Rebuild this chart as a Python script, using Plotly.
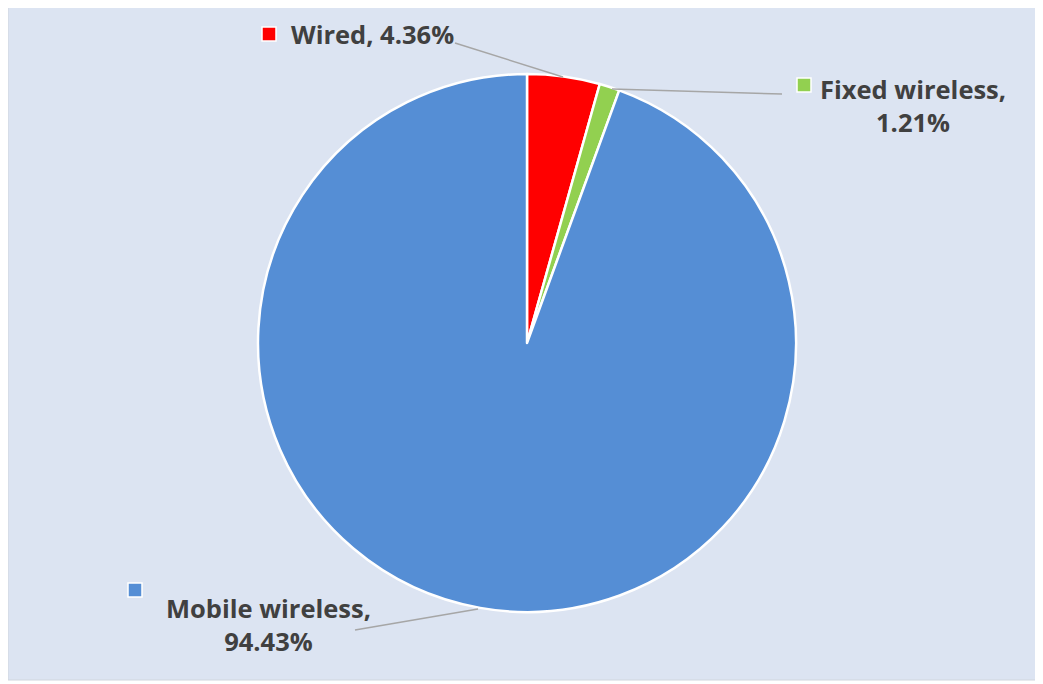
import plotly.graph_objects as go

categories = ["Wired", "Fixed wireless", "Mobile wireless"]
shares = [4.36, 1.21, 94.43]
colors = ["#FF0000", "#92D050", "#558ED5"]
label_texts = ["Wired, 4.36%", "Fixed wireless,<br>1.21%", "Mobile wireless,<br>94.43%"]

W, H = 1043, 684
OFF = 8  # page body margin
def px(x): return (x - OFF) / W
def py(y): return 1 - (y - OFF) / H

cx, cy, r = 527, 343, 269

fig = go.Figure(go.Pie(
    labels=categories, values=shares, sort=False, direction="clockwise", rotation=0,
    marker=dict(colors=colors, line=dict(color="white", width=2.5)),
    textinfo="none", hoverinfo="label+percent", showlegend=False,
    domain=dict(x=[px(cx - r), px(cx + r)], y=[py(cy + r), py(cy - r)]),
))

shapes = [
    dict(type="rect", xref="paper", yref="paper", x0=px(8), x1=px(1040), y0=py(680), y1=py(5),
         fillcolor="#DCE4F2", line=dict(color="#D0D6DE", width=1), layer="below"),
]
lines = [((455, 43), (563, 77)), ((612, 89), (782, 94)), ((478, 609), (355, 630))]
for (x0, y0), (x1, y1) in lines:
    shapes.append(dict(type="line", xref="paper", yref="paper", x0=px(x0), y0=py(y0), x1=px(x1), y1=py(y1),
                       line=dict(color="#A6A6A6", width=1.5)))
keys = [(262, 27), (797, 78), (128, 583)]
for (x, y), c in zip(keys, colors):
    shapes.append(dict(type="rect", xref="paper", yref="paper", x0=px(x), x1=px(x + 14), y0=py(y + 14), y1=py(y),
                       fillcolor=c, line=dict(color="white", width=1.5)))

font = dict(family="Open Sans, sans-serif", size=25.5, color="#404040")
annotations = [
    dict(x=px(372), y=py(34), text="<b>" + label_texts[0] + "</b>"),
    dict(x=px(913), y=py(105), text="<b>" + label_texts[1] + "</b>"),
    dict(x=px(268), y=py(624), text="<b>" + label_texts[2] + "</b>"),
]
for a in annotations:
    a.update(xref="paper", yref="paper", showarrow=False, font=font, align="center",
             xanchor="center", yanchor="middle")

fig.update_layout(
    width=W, height=H, margin=dict(l=0, r=0, t=0, b=0),
    paper_bgcolor="#FFFFFF", plot_bgcolor="#FFFFFF",
    shapes=shapes, annotations=annotations,
)
fig.write_html("out.html")
